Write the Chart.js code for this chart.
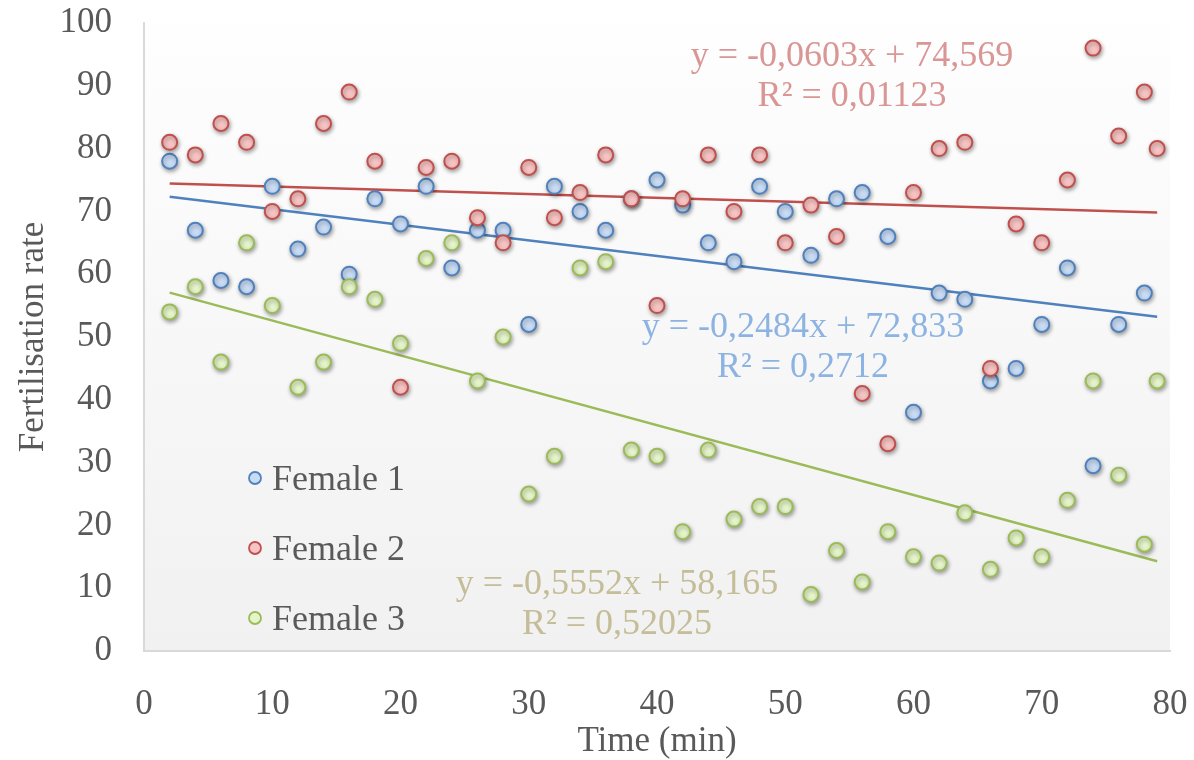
<!DOCTYPE html>
<html>
<head>
<meta charset="utf-8">
<title>Fertilisation rate</title>
<script src="https://cdn.jsdelivr.net/npm/chart.js@4.4.1/dist/chart.umd.min.js"></script>
<style>
  html, body { margin: 0; padding: 0; background: #ffffff; }
  #wrap { width: 1194px; height: 760px; }
</style>
</head>
<body>
<div id="wrap"><canvas id="fertChart" width="1194" height="760"></canvas></div>
<script>
// tijden (min) per reeks
const timeF1 = [2,4,6,8,10,12,14,16,18,20,22,24,26,28,30,32,34,36,38,40,42,44,46,48,50,52,54,56,58,60,62,64,66,68,70,72,74,76,78];
const timeF2 = [2,4,6,8,10,12,14,16,18,20,22,24,26,28,30,32,34,36,38,40,42,44,46,48,50,52,54,56,58,60,62,64,66,68,70,72,74,76,78,79];
const timeF3 = [2,4,6,8,10,12,14,16,18,20,22,24,26,28,30,32,34,36,38,40,42,44,46,48,50,52,54,56,58,60,62,64,66,68,70,72,74,76,78,79];

// fertilisation rate
const female1 = [78,67,59,58,74,64,67.5,60,72,68,74,61,67,67,52,74,70,67,72,75,71,65,62,74,70,63,72,73,66,38,57,56,43,45,52,61,29.5,52,57];
const female2 = [81,79,84,81,70,72,84,89,78,42,77,78,69,65,77,69,73,79,72,55,72,79,70,79,65,71,66,41,33,73,80,81,45,68,65,75,96,82,89,80];
const female3 = [54,58,46,65,55,42,46,58,56,49,62.5,65,43,50,25,31,61,62,32,31,19,32,21,23,23,9,16,11,19,15,14,22,13,18,15,24,43,28,17,43];

// trendlijnen (begin- en eindpunt)
const trendX = [2, 79];
const trend1 = [72.34, 53.21];
const trend2 = [74.45, 69.81];
const trend3 = [57.06, 14.30];

const seriesNames = ['Female 1', 'Female 2', 'Female 3'];
const borderColors = ['#4f81bd', '#c0504d', '#9bbb59'];
const fillColors = ['#c9dcf5', '#f7c4c3', '#e5f4c9'];
const labelColors = ['#8db3e2', '#d99694', '#c4bd97'];

const toPoints = (xs, ys) => xs.map((x, i) => ({ x: x, y: ys[i] }));

const serif = "'Liberation Serif', 'Times New Roman', serif";
const grey = '#595959';

// achtergrond van het plotgebied (verloop)
const plotBackground = {
  id: 'plotBackground',
  beforeDraw(chart) {
    const { ctx, chartArea: a } = chart;
    const g = ctx.createLinearGradient(0, a.top, 0, a.bottom);
    g.addColorStop(0, '#fefefe');
    g.addColorStop(1, '#f1f1f1');
    ctx.save();
    ctx.fillStyle = g;
    ctx.fillRect(a.left, a.top, a.right - a.left, a.bottom - a.top);
    ctx.restore();
  }
};

// schaduw onder de punten
const pointShadow = {
  id: 'pointShadow',
  beforeDatasetDraw(chart, args) {
    if (chart.data.datasets[args.index].type === 'line') return;
    const ctx = chart.ctx;
    ctx.save();
    ctx.shadowColor = 'rgba(0,0,0,0.35)';
    ctx.shadowBlur = 4;
    ctx.shadowOffsetX = 1;
    ctx.shadowOffsetY = 2;
  },
  afterDatasetDraw(chart, args) {
    if (chart.data.datasets[args.index].type === 'line') return;
    chart.ctx.restore();
  }
};

// vergelijkingen van de trendlijnen en legenda in het plotgebied
const overlayText = {
  id: 'overlayText',
  afterDraw(chart) {
    const ctx = chart.ctx;
    ctx.save();
    ctx.font = '36px ' + serif;
    ctx.textAlign = 'center';
    ctx.textBaseline = 'middle';
    const eqs = [
      { c: 0, lines: ['y = -0,2484x + 72,833', 'R² = 0,2712'], x: 803, y: 328 },
      { c: 1, lines: ['y = -0,0603x + 74,569', 'R² = 0,01123'], x: 852, y: 57 },
      { c: 2, lines: ['y = -0,5552x + 58,165', 'R² = 0,52025'], x: 617, y: 585 }
    ];
    eqs.forEach(e => {
      ctx.fillStyle = labelColors[e.c];
      ctx.fillText(e.lines[0], e.x, e.y);
      ctx.fillText(e.lines[1], e.x, e.y + 40);
    });

    // legenda
    ctx.textAlign = 'left';
    seriesNames.forEach((name, i) => {
      const y = 478 + i * 70;
      ctx.beginPath();
      ctx.arc(255, y, 6, 0, Math.PI * 2);
      ctx.fillStyle = fillColors[i];
      ctx.fill();
      ctx.lineWidth = 1.8;
      ctx.strokeStyle = borderColors[i];
      ctx.stroke();
      ctx.fillStyle = grey;
      ctx.fillText(name, 272, y + 3);
    });
    ctx.restore();
  }
};

const scatterSet = (i, xs, ys) => ({
  type: 'scatter',
  label: seriesNames[i],
  data: toPoints(xs, ys),
  pointRadius: 7.5,
  pointHoverRadius: 7.5,
  pointBorderWidth: 2,
  pointBackgroundColor: fillColors[i],
  pointBorderColor: borderColors[i],
  order: 3 - i
});

const trendSet = (i, ys) => ({
  type: 'line',
  label: seriesNames[i] + ' trend',
  data: toPoints(trendX, ys),
  borderColor: borderColors[i],
  borderWidth: 2.5,
  pointRadius: 0,
  fill: false,
  order: 10 + i
});

new Chart(document.getElementById('fertChart').getContext('2d'), {
  type: 'scatter',
  data: {
    datasets: [
      scatterSet(0, timeF1, female1),
      scatterSet(1, timeF2, female2),
      scatterSet(2, timeF3, female3),
      trendSet(0, trend1),
      trendSet(1, trend2),
      trendSet(2, trend3)
    ]
  },
  options: {
    responsive: false,
    animation: false,
    layout: { padding: { top: 23, right: 24, left: 0, bottom: 0 } },
    plugins: {
      legend: { display: false },
      tooltip: { enabled: false }
    },
    scales: {
      x: {
        type: 'linear',
        min: 0,
        max: 80,
        afterFit(scale) { scale.height = 109; },
        // tickLength geeft de afstand tot de labels (streepjes zelf niet zichtbaar)
        grid: { display: false, drawTicks: true, tickLength: 33 },
        border: { display: true, color: '#d9d9d9', width: 2 },
        ticks: { stepSize: 10, padding: 0, color: grey, font: { family: serif, size: 35 } },
        title: {
          display: true,
          text: 'Time (min)',
          color: grey,
          padding: { top: 0, bottom: 0 },
          font: { family: serif, size: 35, lineHeight: 1.03 }
        }
      },
      y: {
        type: 'linear',
        min: 0,
        max: 100,
        afterFit(scale) { scale.width = 144; },
        grid: { display: false, drawTicks: true, tickLength: 32 },
        border: { display: true, color: '#d9d9d9', width: 2 },
        ticks: { stepSize: 10, padding: 0, color: grey, font: { family: serif, size: 35 } },
        title: {
          display: true,
          text: 'Fertilisation rate',
          color: grey,
          padding: { top: 16, bottom: 0 },
          font: { family: serif, size: 35, lineHeight: 1 }
        }
      }
    }
  },
  plugins: [plotBackground, pointShadow, overlayText]
});
</script>
</body>
</html>
